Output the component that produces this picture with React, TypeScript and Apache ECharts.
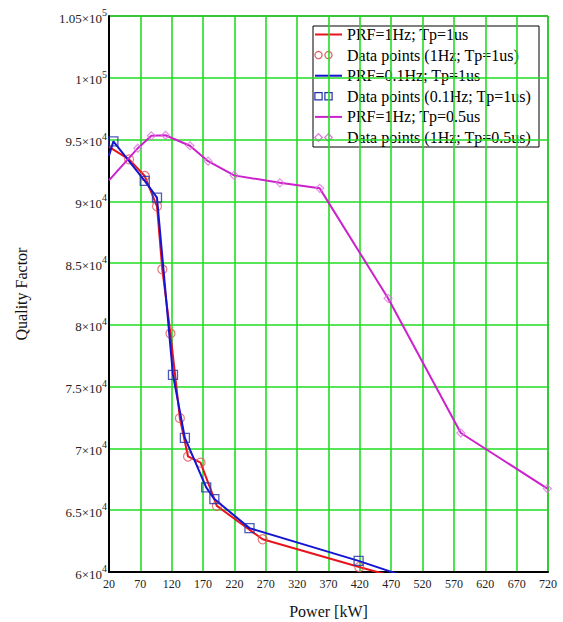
import React, { useEffect, useRef } from "react";
import * as echarts from "echarts";

// ---- data ----
const redPoints: [number, number][] = [
  [52, 93400], [77, 92050], [96.5, 89600], [105, 84500], [118, 79300],
  [133, 72450], [146, 69350], [166, 68850], [192, 65350], [265, 62650], [419, 60400],
];
const redLineStart: [number, number] = [20, 94400];
const redLineEnd: [number, number] = [480, 59550];

const bluePoints: [number, number][] = [
  [27, 94850], [77, 91650], [96.5, 90300], [122, 75950], [141, 70850],
  [175, 66850], [188, 65900], [244, 63550], [418, 60900],
];
const blueLineStart: [number, number] = [20, 93700];
const blueLineEnd: [number, number] = [480, 59850];

const magentaPoints: [number, number][] = [
  [66, 94300], [87.5, 95300], [110, 95350], [149, 94500], [178, 93250],
  [219.5, 92100], [292.5, 91500], [356, 91050], [465, 82150], [581, 71250], [719, 66750],
];
const magentaLineStart: [number, number] = [20, 91700];

const legendLabels = [
  "PRF=1Hz; Tp=1us",
  "Data points (1Hz; Tp=1us)",
  "PRF=0.1Hz; Tp=1us",
  "Data points (0.1Hz; Tp=1us)",
  "PRF=1Hz; Tp=0.5us",
  "Data points (1Hz; Tp=0.5us)",
];

const X_MIN = 20, X_MAX = 720, X_STEP = 50;
const Y_MIN = 60000, Y_MAX = 105000, Y_STEP = 5000;
const xTitle = "Power [kW]";
const yTitle = "Quality Factor";

const RED = "#e8141c";
const RED_PT = "#e05a5a";
const BLUE = "#1414d2";
const BLUE_PT = "#2030a8";
const MAG = "#cc22cc";
const MAG_PT = "#e070e0";
const SERIF = "Liberation Serif";

function sciLabel(v: number): string {
  const e = Math.floor(Math.log10(v) + 1e-9);
  const m = v / Math.pow(10, e);
  const ms = String(Math.round(m * 100) / 100);
  return `{m|${ms}×10}{e|${e}}`;
}

export default function App() {
  const ref = useRef<HTMLDivElement>(null);
  useEffect(() => {
    if (!ref.current) return;
    const chart = echarts.init(ref.current, null, { renderer: "svg" });

    const lx = 313, ly = 26, lw = 226, lh = 121;
    const rowY = (i: number) => ly + 8.5 + i * 20.6;
    const legendItems: any[] = [
      { type: "rect", shape: { x: lx, y: ly, width: lw, height: lh }, style: { fill: "#fff", stroke: "#000", lineWidth: 1 } },
    ];
    const lineColors = [RED, BLUE, MAG];
    for (let k = 0; k < 3; k++) {
      const yl = rowY(2 * k);
      legendItems.push({ type: "line", shape: { x1: 315, y1: yl, x2: 342, y2: yl }, style: { stroke: lineColors[k], lineWidth: 2 } });
      const yp = rowY(2 * k + 1);
      for (const cx of [318.5, 328.5]) {
        if (k === 0) legendItems.push({ type: "circle", shape: { cx, cy: yp, r: 3.6 }, style: { fill: "none", stroke: RED_PT, lineWidth: 1.2 } });
        if (k === 1) legendItems.push({ type: "rect", shape: { x: cx - 3.6, y: yp - 3.6, width: 7.2, height: 7.2 }, style: { fill: "none", stroke: BLUE_PT, lineWidth: 1.2 } });
        if (k === 2) legendItems.push({ type: "polygon", shape: { points: [[cx, yp - 3.8], [cx + 3.8, yp], [cx, yp + 3.8], [cx - 3.8, yp]] }, style: { fill: "none", stroke: MAG_PT, lineWidth: 1.2 } });
      }
    }
    legendLabels.forEach((t, i) => {
      legendItems.push({ type: "text", x: 347, y: rowY(i), style: { text: t, fill: "#000", fontFamily: SERIF, fontSize: 16, verticalAlign: "middle", align: "left" } });
    });

    chart.setOption({
      animation: false,
      backgroundColor: "#fff",
      textStyle: { fontFamily: SERIF },
      grid: { left: 109, right: 15, top: 16, bottom: 50, show: true, borderColor: "#000", borderWidth: 1, outerBoundsMode: "none" },
      xAxis: {
        type: "value", min: X_MIN, max: X_MAX, interval: X_STEP,
        name: xTitle, nameLocation: "middle", nameGap: 31,
        nameTextStyle: { fontFamily: SERIF, fontSize: 16, color: "#111" },
        axisLine: { show: true, lineStyle: { color: "#000", width: 2 } },
        axisTick: { show: false },
        axisLabel: { fontFamily: SERIF, fontSize: 12, color: "#222", margin: 6, showMinLabel: true, showMaxLabel: true },
        splitLine: { show: true, lineStyle: { color: "#22dd22", width: 1.6 } },
      },
      yAxis: {
        type: "value", min: Y_MIN, max: Y_MAX, interval: Y_STEP,
        name: yTitle, nameLocation: "middle", nameGap: 80, nameRotate: 90,
        nameTextStyle: { fontFamily: SERIF, fontSize: 16, color: "#111" },
        axisLine: { show: true, lineStyle: { color: "#000", width: 2 } },
        axisTick: { show: false },
        axisLabel: {
          margin: 2, fontFamily: SERIF, formatter: (v: number) => sciLabel(v),
          rich: {
            m: { fontFamily: SERIF, fontSize: 13, color: "#222", lineHeight: 17, verticalAlign: "bottom" },
            e: { fontFamily: SERIF, fontSize: 10, color: "#222", lineHeight: 10, verticalAlign: "top" },
          },
        },
        splitLine: { show: true, lineStyle: { color: "#22dd22", width: 1.6 } },
      },
      series: [
        { type: "line", data: [redLineStart, ...redPoints, redLineEnd], symbol: "none", lineStyle: { color: RED, width: 2 }, clip: true, z: 3 },
        { type: "scatter", data: redPoints, symbol: "circle", symbolSize: 9, itemStyle: { color: "transparent", borderColor: RED_PT, borderWidth: 1.2 }, z: 4 },
        { type: "line", data: [blueLineStart, ...bluePoints, blueLineEnd], symbol: "none", lineStyle: { color: BLUE, width: 2 }, clip: true, z: 5 },
        { type: "scatter", data: bluePoints, symbol: "rect", symbolSize: 9, itemStyle: { color: "transparent", borderColor: BLUE_PT, borderWidth: 1.3 }, z: 6 },
        { type: "line", data: [magentaLineStart, ...magentaPoints], symbol: "none", lineStyle: { color: MAG, width: 2 }, clip: true, z: 7 },
        { type: "scatter", data: magentaPoints, symbol: "diamond", symbolSize: 8, itemStyle: { color: "transparent", borderColor: MAG_PT, borderWidth: 1.2 }, z: 8 },
      ],
      graphic: [{ type: "group", z: 100, children: legendItems }],
    });
    return () => chart.dispose();
  }, []);
  return <div ref={ref} style={{ position: "fixed", left: 0, top: 0, width: 563, height: 622 }} />;
}
